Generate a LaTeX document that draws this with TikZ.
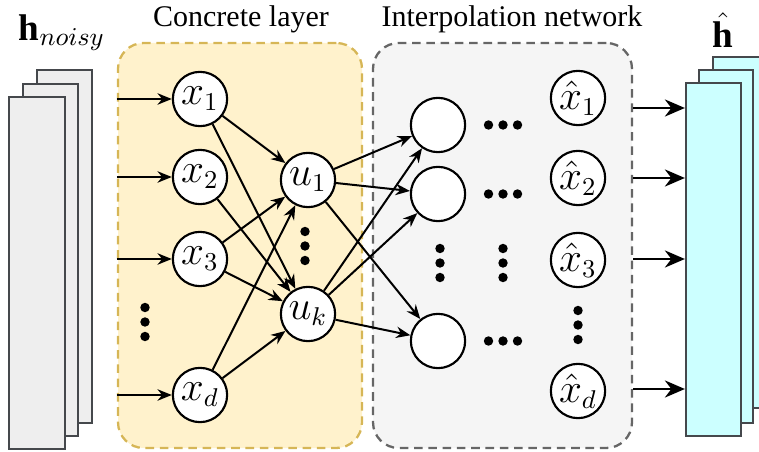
\documentclass[tikz,border=0pt]{standalone}
\usepackage{fontspec}
\setmainfont{Liberation Serif}
\usetikzlibrary{positioning, fit, arrows.meta}
\definecolor{concretefill}{HTML}{FFF2CC}
\definecolor{concreteline}{HTML}{D6B656}
\definecolor{interpfill}{HTML}{F5F5F5}
\definecolor{interpline}{HTML}{666666}
\definecolor{sheetline}{HTML}{45484C}
\definecolor{noisyfill}{HTML}{EEEEEE}
\definecolor{cleanfill}{HTML}{CCFFFF}
\tikzset{
  neuron/.style={circle, draw, fill=white, line width=0.75pt, minimum size=19pt, inner sep=0pt, font=\fontsize{13.5}{16}\selectfont},
  layerbox/.style={rounded corners=9pt, line width=0.8pt, dash pattern=on 3pt off 2pt, inner sep=0pt},
  sheet/.style={draw=sheetline, line width=0.8pt},
  wire/.style={line width=0.7pt, -{Stealth[length=5pt, width=4pt]}},
  outwire/.style={line width=0.8pt, -{Stealth[length=7pt, width=6pt]}},
  blob/.style={circle, fill, inner sep=0pt, minimum size=3.3pt},
}

\begin{document}
\begin{tikzpicture}[x=0.35pt, y=-0.35pt]
\useasboundingbox (0,0) rectangle (759,452);

% noisy input sheets
\draw[sheet, fill=noisyfill] (37,70) rectangle (92,423);
\draw[sheet, fill=noisyfill] (23,84) rectangle (78,436);
\draw[sheet, fill=noisyfill] (9,97) rectangle (65,449);
\node (noisylbl) at (62,33) {\fontsize{13}{15}\selectfont$\mathbf{h}_{noisy}$};

% the two dashed boxes
\coordinate (cTL) at (118,43); \coordinate (cBR) at (362,448);
\node[layerbox, draw=concreteline, fill=concretefill, fit=(cTL)(cBR)] (concrete) {};
\coordinate (iTL) at (373,43); \coordinate (iBR) at (632,448);
\node[layerbox, draw=interpline, fill=interpfill, fit=(iTL)(iBR)] (interp) {};
\node (concretelbl) at (241,19) {\fontsize{10.5}{12}\selectfont Concrete layer};
\node (interplbl) at (512,19) {\fontsize{10.5}{12}\selectfont Interpolation network};

% clean output sheets
\draw[sheet, fill=cleanfill] (713,57) rectangle (770,408);
\draw[sheet, fill=cleanfill] (699,70) rectangle (753,423);
\coordinate (oTL) at (686,83); \coordinate (oBR) at (741,436);
\node[sheet, fill=cleanfill, fit=(oTL)(oBR), inner sep=0pt] (cleanfront) {};
\node[inner sep=1pt] (cleanlbl) at (723,30) {\fontsize{13}{15}\selectfont$\hat{\mathbf{h}}$};

% concrete layer
\node[neuron] (x1) at (200,99) {$x_1$};
\node[neuron] (x2) at (200,177) {$x_2$};
\node[neuron] (x3) at (200,259) {$x_3$};
\node[neuron] (xd) at (200,395) {$x_d$};
\node[neuron] (u1) at (308,180) {$u_1$};
\node[neuron] (uk) at (308,314) {$u_k$};

% interpolation network
\node[neuron] (h1) at (438,125) {};
\node[neuron] (h2) at (438,194) {};
\node[neuron] (h4) at (438,341) {};
\node[neuron] (xh1) at (578,98) {$\hat{x}_1$};
\node[neuron] (xh2) at (578,178) {$\hat{x}_2$};
\node[neuron] (xh3) at (578,260) {$\hat{x}_3$};
\node[neuron] (xhd) at (578,391) {$\hat{x}_d$};

% dots
\foreach \d in {-14.5,0,14.5} {
  \node[blob] at (145,322+\d) {};
  \node[blob] at (305,246+\d) {};
  \node[blob] at (440,263+\d) {};
  \node[blob] at (503,263+\d) {};
  \node[blob] at (578,325+\d) {};
  \node[blob] at (503+\d,125) {};
  \node[blob] at (503+\d,194) {};
  \node[blob] at (503+\d,341) {};
}

% inputs
\foreach \n in {x1,x2,x3,xd}
  \draw[wire] (concrete.west |- \n) -- (\n);

% selection
\draw[wire] (x1) -- (u1);
\draw[wire] (x1) -- (uk);
\draw[wire] (x2) -- (uk);
\draw[wire] (x3) -- (u1);
\draw[wire] (x3) -- (uk);
\draw[wire] (xd) -- (u1);
\draw[wire] (xd) -- (uk);

% into interpolation network
\foreach \s in {u1,uk}
  \foreach \t in {h1,h2,h4}
    \draw[wire] (\s) -- (\t);

% outputs
\foreach \y in {108,178,259,389}
  \draw[outwire] (interp.east |- 0,\y) -- (cleanfront.west |- 0,\y);
\end{tikzpicture}
\end{document}
